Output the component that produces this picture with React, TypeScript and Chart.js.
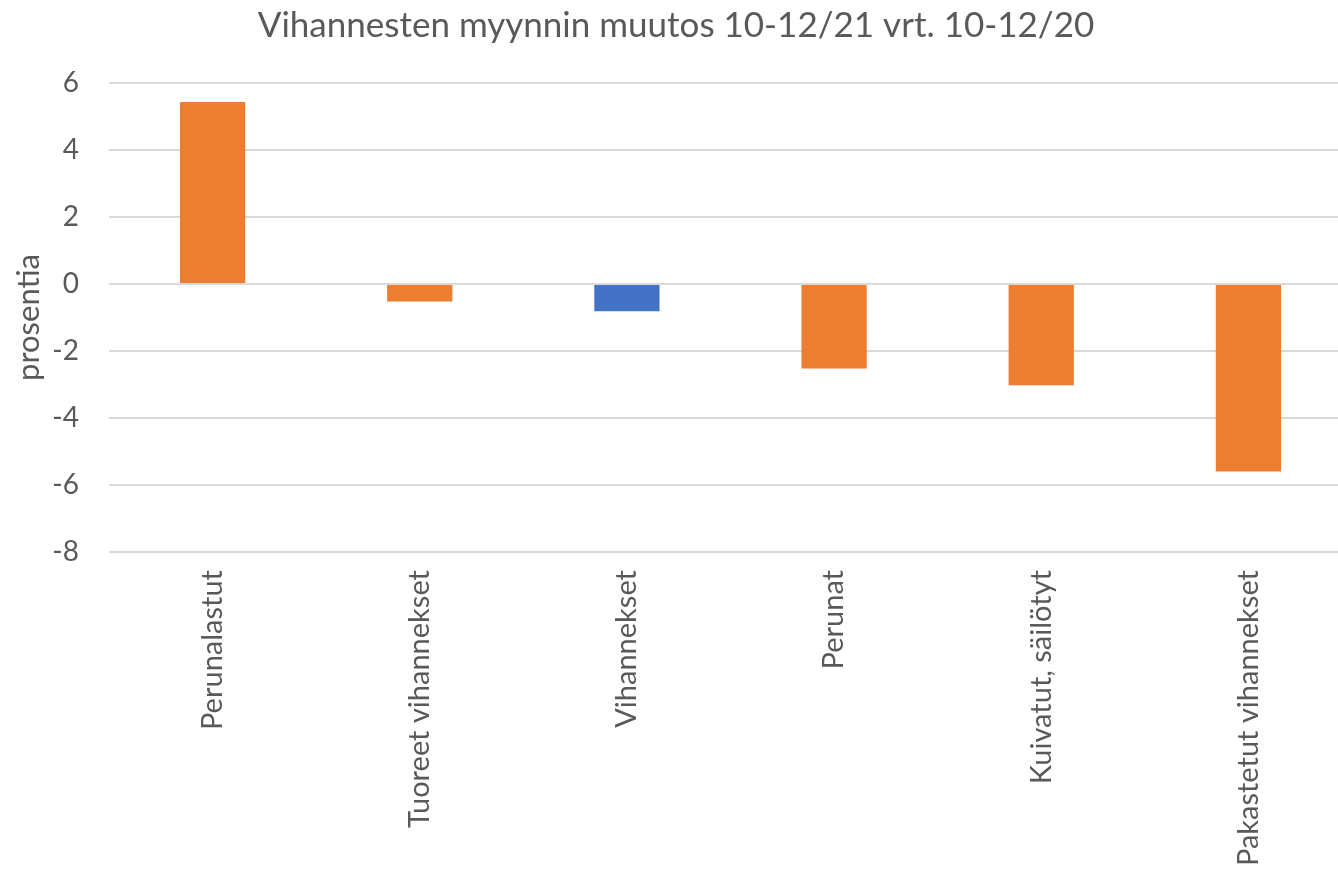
import React, { useEffect, useRef } from "react";
import { Chart, registerables } from "chart.js";

Chart.register(...registerables);

const categories = [
  "Perunalastut",
  "Tuoreet vihannekset",
  "Vihannekset",
  "Perunat",
  "Kuivatut, säilötyt",
  "Pakastetut vihannekset",
];
const values = [5.43, -0.52, -0.81, -2.52, -3.02, -5.6];
const barColors = ["#ED7D31", "#ED7D31", "#4472C4", "#ED7D31", "#ED7D31", "#ED7D31"];
const titleText = "Vihannesten myynnin muutos 10-12/21 vrt. 10-12/20";
const yTitle = "prosentia";
const yMin = -8;
const yMax = 6;
const yStep = 2;

const FONT = "Lato, 'Open Sans', sans-serif";
const TEXT = "#595959";

export default function App() {
  const ref = useRef<HTMLCanvasElement>(null);
  useEffect(() => {
    if (!ref.current) return;
    const chart = new Chart(ref.current, {
      type: "bar",
      data: {
        labels: categories,
        datasets: [
          {
            data: values,
            backgroundColor: barColors,
            categoryPercentage: 1,
            barPercentage: 0.315,
          },
        ],
      },
      options: {
        animation: false,
        responsive: false,
        layout: { padding: { left: 0, right: 0, top: 0, bottom: 0 } },
        plugins: {
          legend: { display: false },
          tooltip: { enabled: false },
          title: {
            display: true,
            text: titleText,
            color: TEXT,
            font: { family: FONT, size: 35, weight: "normal" },
            padding: { top: 5, bottom: 36 },
          },
        },
        scales: {
          x: {
            grid: { display: false, drawTicks: false },
            border: { display: false },
            ticks: {
              color: TEXT,
              font: { family: FONT, size: 29 },
              minRotation: 90,
              maxRotation: 90,
              autoSkip: false,
              padding: 18,
            },
            afterFit: (s: any) => {
              s.height = 875 - 552;
            },
          },
          y: {
            min: yMin,
            max: yMax,
            grid: { color: "#D9D9D9", lineWidth: 2, drawTicks: false },
            border: { display: false },
            ticks: {
              stepSize: yStep,
              color: TEXT,
              font: { family: FONT, size: 28 },
              padding: 30,
            },
            title: {
              display: true,
              text: yTitle,
              color: TEXT,
              font: { family: FONT, size: 31 },
              padding: { top: 10, bottom: 0 },
            },
            afterFit: (s: any) => {
              s.width = 109;
            },
          },
        },
      },
    });
    return () => chart.destroy();
  }, []);
  return (
    <div
      style={{
        position: "fixed",
        left: 0,
        top: 0,
        width: 1338,
        height: 875,
        overflow: "hidden",
        background: "#fff",
      }}
    >
      <canvas ref={ref} width={1352} height={875} style={{ display: "block" }} />
    </div>
  );
}
